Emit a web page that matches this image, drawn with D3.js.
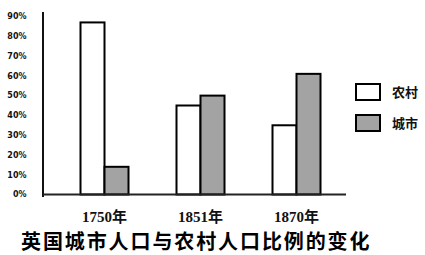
<!DOCTYPE html>
<html>
<head>
<meta charset="utf-8">
<script src="https://cdn.jsdelivr.net/npm/d3@7"></script>
<style>
  html, body { margin: 0; padding: 0; background: #fff; }
  svg { display: block; }
</style>
</head>
<body>
<div class="displayArea"></div>
<script>
// data
const years = ["1750年", "1851年", "1870年"];
const seriesNames = ["农村", "城市"];
const rural = [87, 45, 35];
const urban = [14, 50, 61];
const yTicks = [0, 10, 20, 30, 40, 50, 60, 70, 80, 90];
const title = "英国城市人口与农村人口比例的变化";

const width = 425,
      height = 255,
      baseY = 194.5,
      axisX = 43;

const colours = { "农村": "#ffffff", "城市": "#a3a3a3" };

const svg = d3.select(".displayArea")
    .append("svg")
    .attr("width", width)
    .attr("height", height);

const xScale = d3.scaleBand()
    .domain(years)
    .range([56.5, 344.5]);

const inner = d3.scaleBand()
    .domain(seriesNames)
    .range([xScale.bandwidth() / 2 - 24, xScale.bandwidth() / 2 + 24]);

const yScale = d3.scaleLinear()
    .domain([0, 90])
    .range([baseY, 16.5]);

// y tick labels
svg.append("g")
    .selectAll("text")
    .data(yTicks)
    .enter()
    .append("text")
    .attr("x", 26.5)
    .attr("y", d => yScale(d))
    .attr("dy", "0.35em")
    .attr("text-anchor", "end")
    .style("font-family", "DejaVu Sans, sans-serif")
    .style("font-weight", "bold")
    .style("font-size", "8px")
    .attr("fill", "#111")
    .text(d => d + "%");

// bars
const rows = years.map((y, i) => ({ year: y, values: [rural[i], urban[i]] }));

const groups = svg.selectAll(".grp")
    .data(rows)
    .enter()
    .append("g")
    .attr("class", "grp")
    .attr("transform", d => `translate(${xScale(d.year)},0)`);

groups.selectAll("rect")
    .data(d => d.values.map((v, j) => ({ name: seriesNames[j], value: v })))
    .enter()
    .append("rect")
    .attr("x", d => inner(d.name))
    .attr("width", inner.bandwidth())
    .attr("y", d => yScale(d.value))
    .attr("height", d => baseY - yScale(d.value))
    .attr("fill", d => colours[d.name])
    .attr("stroke", "#000")
    .attr("stroke-width", 2);

// axes lines
svg.append("line")
    .attr("x1", axisX).attr("x2", axisX)
    .attr("y1", 12).attr("y2", 197)
    .attr("stroke", "#111")
    .attr("stroke-width", 2);

svg.append("line")
    .attr("x1", axisX).attr("x2", 346)
    .attr("y1", baseY).attr("y2", baseY)
    .attr("stroke", "#222")
    .attr("stroke-width", 2);

// x labels
svg.append("g")
    .selectAll("text")
    .data(years)
    .enter()
    .append("text")
    .attr("x", d => xScale(d) + xScale.bandwidth() / 2)
    .attr("y", 222)
    .attr("text-anchor", "middle")
    .style("font-family", "Liberation Serif, Noto Sans CJK SC, serif")
    .style("font-weight", "bold")
    .style("font-size", "15px")
    .attr("fill", "#111")
    .text(d => d);

// legend
const legend = svg.append("g")
    .selectAll("g")
    .data(seriesNames)
    .enter()
    .append("g")
    .attr("transform", (d, i) => `translate(356,${84 + i * 31})`);

legend.append("rect")
    .attr("width", 24)
    .attr("height", 16)
    .attr("fill", d => colours[d])
    .attr("stroke", "#000")
    .attr("stroke-width", 2);

legend.append("text")
    .attr("x", 36)
    .attr("y", 8)
    .attr("dy", "0.36em")
    .style("font-family", "Noto Sans CJK SC, sans-serif")
    .style("font-weight", "bold")
    .style("font-size", "13px")
    .attr("fill", "#111")
    .text(d => d);

// title
svg.append("text")
    .attr("x", 21)
    .attr("y", 249)
    .style("font-family", "Noto Sans CJK SC, sans-serif")
    .style("font-weight", "bold")
    .style("font-size", "20px")
    .style("letter-spacing", "1.9px")
    .attr("fill", "#000")
    .text(title);
</script>
</body>
</html>
